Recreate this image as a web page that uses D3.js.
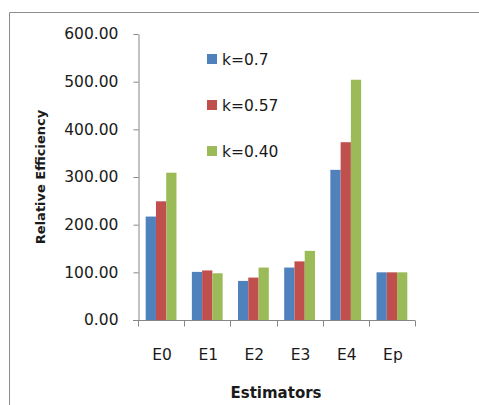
<!DOCTYPE html>
<html>
<head>
<meta charset="utf-8">
<script src="https://cdn.jsdelivr.net/npm/d3@7"></script>
<style>
  html, body { margin: 0; padding: 0; background: #fff; }
  svg text { fill: #1a1a1a; }
</style>
</head>
<body>
<svg id="chart" width="479" height="405"></svg>
<script>
// Relative efficiency of estimators for three values of k
const categories = ["E0", "E1", "E2", "E3", "E4", "Ep"];
const seriesNames = ["k=0.7", "k=0.57", "k=0.40"];
const seriesColors = ["#4f81bd", "#c0504d", "#9bbb59"];
const k07  = [217, 101, 82, 110, 315, 100];
const k057 = [249, 104, 89, 123, 373, 100];
const k040 = [309, 98, 110, 145, 504, 100];
const yTicks = [0, 100, 200, 300, 400, 500, 600];

const series = [k07, k057, k040];
const svg = d3.select("#chart");
const font = "'DejaVu Sans', Verdana, sans-serif";

// chart frame (left and top edges visible)
svg.append("path")
  .attr("d", "M9.5,405 V12.5 H479")
  .attr("fill", "none").attr("stroke", "#8c8c8c").attr("stroke-width", 1);

const plot = { left: 138, right: 415, top: 34, bottom: 320 };

const x = d3.scaleBand().domain(categories).range([plot.left, plot.right]).paddingInner(0).paddingOuter(0);
const bw = x.bandwidth() / 4.5;           // three bars plus a 150% gap
const y = d3.scaleLinear().domain([0, 600]).range([plot.bottom, plot.top]);

// bars
const g = svg.append("g");
series.forEach((vals, si) => {
  g.selectAll(null).data(vals).enter().append("rect")
    .attr("x", (d, i) => x(categories[i]) + 0.75 * bw + si * bw)
    .attr("y", d => y(d))
    .attr("width", bw)
    .attr("height", d => y(0) - y(d))
    .attr("fill", seriesColors[si]);
});

// y axis
const yAxis = d3.axisLeft(y).tickValues(yTicks).tickFormat(d3.format(".2f")).tickSize(5).tickSizeOuter(0);
const ya = svg.append("g").attr("transform", `translate(${plot.left + 0.5},0)`).call(yAxis);
ya.select(".domain").attr("stroke", "#868686");
ya.selectAll(".tick line").attr("stroke", "#868686");
ya.selectAll(".tick text").attr("font-family", font).attr("font-size", 15.5).attr("x", -20).attr("fill", "#1a1a1a");

// x axis: tick marks on category boundaries
const xa = svg.append("g").attr("transform", `translate(0,${plot.bottom + 0.5})`);
xa.append("line").attr("x1", plot.left - 5).attr("x2", plot.right).attr("y1", 0).attr("y2", 0).attr("stroke", "#868686");
const bounds = categories.map(c => x(c)).concat([plot.right]);
xa.selectAll(null).data(bounds).enter().append("line")
  .attr("x1", d => Math.round(d) + 0.5).attr("x2", d => Math.round(d) + 0.5)
  .attr("y1", 0).attr("y2", 6).attr("stroke", "#868686");
xa.selectAll(null).data(categories).enter().append("text")
  .attr("x", d => x(d) + x.bandwidth() / 2 + 1)
  .attr("y", 39)
  .attr("text-anchor", "middle")
  .attr("font-family", font).attr("font-size", 15.5)
  .text(d => d);

// axis titles
svg.append("text")
  .attr("x", 276).attr("y", 398)
  .attr("text-anchor", "middle")
  .attr("font-family", font).attr("font-weight", "bold").attr("font-size", 15)
  .text("Estimators");
svg.append("text")
  .attr("transform", "translate(45,177) rotate(-90)")
  .attr("text-anchor", "middle")
  .attr("font-family", font).attr("font-weight", "bold").attr("font-size", 13)
  .text("Relative Efficiency");

// legend
const legend = svg.append("g").attr("transform", "translate(207,54)");
seriesNames.forEach((name, i) => {
  const row = legend.append("g").attr("transform", `translate(0,${i * 46})`);
  row.append("rect").attr("width", 10).attr("height", 10).attr("fill", seriesColors[i]);
  row.append("text").attr("x", 15).attr("y", 11)
    .attr("font-family", font).attr("font-size", 15.5).text(name);
});
</script>
</body>
</html>
